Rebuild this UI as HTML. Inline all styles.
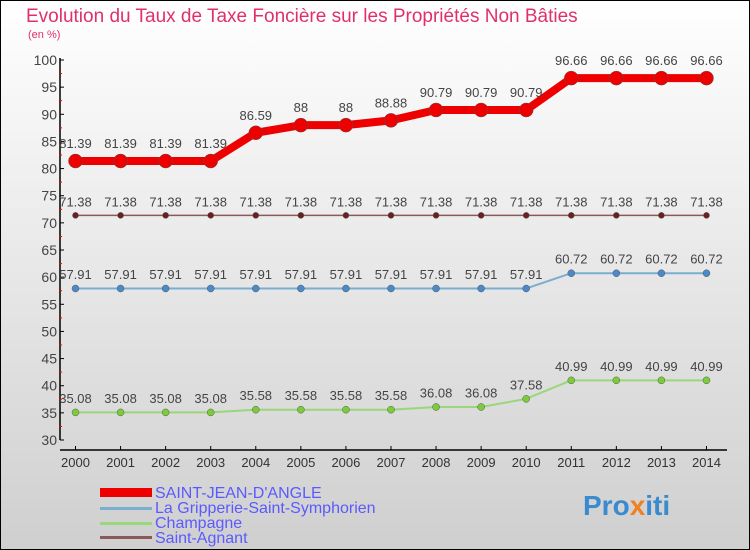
<!DOCTYPE html>
<html><head><meta charset="utf-8"><style>
body{margin:0}svg{display:block;font-family:"Liberation Sans","DejaVu Sans",sans-serif}
</style></head><body>
<svg id="c" width="750" height="550" xmlns="http://www.w3.org/2000/svg">
<defs><linearGradient id="bg" x1="0" y1="0" x2="0" y2="1"><stop offset="0" stop-color="#ffffff"/><stop offset="1" stop-color="#cfcfcf"/></linearGradient></defs>
<rect x="0.5" y="0.5" width="749" height="549" fill="url(#bg)" stroke="#000"/>
<text x="26" y="22" font-size="19" fill="#e0306a">Evolution du Taux de Taxe Foncière sur les Propriétés Non Bâties</text>
<text x="28" y="38" font-size="11" fill="#e0306a">(en %)</text>
<g id="axes"></g><g id="series"></g>
<g>
<rect x="100" y="488" width="52" height="9" fill="#e00"/>
<text x="155" y="498" font-size="16" fill="#5a5aff">SAINT-JEAN-D'ANGLE</text>
<rect x="100" y="507" width="52" height="3" fill="#7aaed0"/>
<text x="155" y="513" font-size="16" fill="#5a5aff">La Gripperie-Saint-Symphorien</text>
<rect x="100" y="522" width="52" height="3" fill="#9ad67a"/>
<text x="155" y="528" font-size="16" fill="#5a5aff">Champagne</text>
<rect x="100" y="536" width="52" height="3" fill="#8a5a5a"/>
<text x="155" y="543" font-size="16" fill="#5a5aff">Saint-Agnant</text>
</g>
<text x="583" y="515" font-size="28" font-weight="bold" fill="#3a8ad0">Pro<tspan fill="#f08020">x</tspan>iti</text>
</svg>
<script>
const years=[2000,2001,2002,2003,2004,2005,2006,2007,2008,2009,2010,2011,2012,2013,2014];
const yTicks=[30,35,40,45,50,55,60,65,70,75,80,85,90,95,100];
const sSaintJean=[81.39,81.39,81.39,81.39,86.59,88,88,88.88,90.79,90.79,90.79,96.66,96.66,96.66,96.66];
const sSaintAgnant=[71.38,71.38,71.38,71.38,71.38,71.38,71.38,71.38,71.38,71.38,71.38,71.38,71.38,71.38,71.38];
const sGripperie=[57.91,57.91,57.91,57.91,57.91,57.91,57.91,57.91,57.91,57.91,57.91,60.72,60.72,60.72,60.72];
const sChampagne=[35.08,35.08,35.08,35.08,35.58,35.58,35.58,35.58,36.08,36.08,37.58,40.99,40.99,40.99,40.99];
const NS="http://www.w3.org/2000/svg";
const X=i=>75.5+i*45.07, Y=v=>440-(v-30)*380/70;
function mk(t,a,p){const e=document.createElementNS(NS,t);for(const k in a)e.setAttribute(k,a[k]);p.appendChild(e);return e;}
const ax=document.getElementById('axes');
let e=mk('line',{x1:60,y1:58,x2:60,y2:440,stroke:'#000','stroke-width':1.5},ax);


e=mk('line',{x1:60,y1:450,x2:727,y2:450,stroke:'#000','stroke-width':1.5},ax);


yTicks.forEach(v=>{
 mk('line',{x1:60,y1:Y(v),x2:64,y2:Y(v),stroke:'#000'},ax);
 if(v<100) mk('line',{x1:59,y1:Y(v+2.5),x2:62,y2:Y(v+2.5),stroke:'#e00'},ax);
 const t=mk('text',{x:57,y:Y(v)+5,'font-size':14,'text-anchor':'end',fill:'#444'},ax);
 t.textContent=v;
 
 
});
years.forEach((y,i)=>{
 mk('line',{x1:X(i),y1:446,x2:X(i),y2:450,stroke:'#000'},ax);
 const t=mk('text',{x:X(i),y:467,'font-size':13,'text-anchor':'middle',fill:'#333'},ax);
 t.textContent=y;
 
 
});
const sg=document.getElementById('series');
function series(data,name,col,dot,w,r){
 const g=mk('g',{},sg);
 
 
 mk('polyline',{points:data.map((v,i)=>X(i)+','+Y(v)).join(' '),fill:'none',stroke:col,'stroke-width':w,'stroke-linejoin':'round'},g);
 data.forEach((v,i)=>{
  const c=mk('circle',{cx:X(i),cy:Y(v),r:r,fill:dot,stroke:'#555','stroke-width':0.5},g);
  
  
  const t=mk('text',{x:X(i),y:Y(v)-(r+6),'font-size':13,'text-anchor':'middle',fill:'#444'},g);
  t.textContent=v;
  
  
 });
}
series(sChampagne,'champagne','#9ad67a','#7ccc3a',2,3.5);
series(sGripperie,'gripperie','#7aaed0','#4a8ac8',2,3.5);
series(sSaintAgnant,'saint-agnant','#8a5a5a','#6a2020',1.5,3);
series(sSaintJean,'saint-jean','#e00','#e00',8,7);
</script>
</body></html>
